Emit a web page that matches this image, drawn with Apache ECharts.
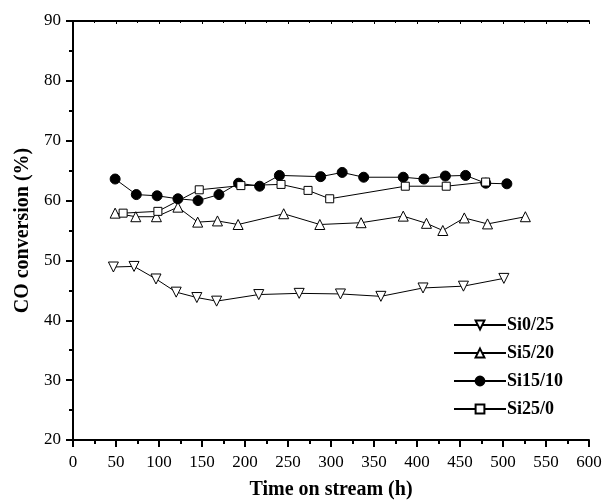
<!DOCTYPE html>
<html>
<head>
<meta charset="utf-8">
<script src="https://cdn.jsdelivr.net/npm/echarts@6/dist/echarts.min.js"></script>
<style>html,body{margin:0;padding:0;background:#fff}#c{width:606px;height:500px}</style>
</head>
<body>
<div id="c"></div>
<script>
var xTicks = [0, 50, 100, 150, 200, 250, 300, 350, 400, 450, 500, 550, 600];
var yTicks = [20, 30, 40, 50, 60, 70, 80, 90];

var seriesNames = ['Si0/25', 'Si5/20', 'Si15/10', 'Si25/0'];

var si0_25_time = [47, 71, 96.5, 120, 144, 167, 216, 263, 311, 358, 407, 454, 501];
var si0_25_conv = [48.9, 49.0, 46.9, 44.7, 43.8, 43.2, 44.3, 44.5, 44.4, 44.0, 45.4, 45.7, 47.0];

var si5_20_time = [49, 73, 97, 122, 145, 168, 192, 245, 287, 335, 384, 411, 430, 455, 482, 526];
var si5_20_conv = [57.9, 57.3, 57.3, 58.9, 56.4, 56.6, 56.0, 57.8, 56.0, 56.3, 57.4, 56.2, 55.0, 57.1, 56.1, 57.3];

var si15_10_time = [49, 73.6, 97.8, 122, 145.4, 169.7, 192.5, 217, 240, 288, 313, 338, 384, 408, 433, 456.5, 480, 504.5];
var si15_10_conv = [63.6, 61.0, 60.8, 60.3, 60.0, 61.0, 62.9, 62.4, 64.2, 64.0, 64.7, 63.9, 63.9, 63.6, 64.1, 64.2, 62.9, 62.8];

var si25_0_time = [58.3, 98.7, 146.8, 195.2, 241.9, 273.3, 298.5, 386.4, 434, 479.8];
var si25_0_conv = [57.9, 58.2, 61.8, 62.5, 62.7, 61.7, 60.3, 62.4, 62.4, 63.1];

function pairs(xs, ys) { return xs.map(function (x, i) { return [x, ys[i]]; }); }

var FONT = 'Liberation Serif';
var chart = echarts.init(document.getElementById('c'), null, {renderer: 'canvas'});

function mkSeries(name, xs, ys, symbol, size, fill, rot) {
  return {
    name: name, type: 'line', data: pairs(xs, ys),
    symbol: symbol, symbolSize: size, symbolRotate: rot || 0,
    showAllSymbol: true,
    lineStyle: {color: '#000', width: 1},
    itemStyle: {color: fill, borderColor: '#000', borderWidth: 1},
    emphasis: {disabled: true},
    animation: false, z: 3
  };
}

var axisLineStyle = {show: true, lineStyle: {color: '#000', width: 2}};

chart.setOption({
  animation: false,
  backgroundColor: '#fff',
  grid: {left: 73, right: 17, top: 21, bottom: 60, containLabel: false, outerBoundsMode: 'none'},
  legend: {
    orient: 'vertical', left: 453, top: 316, padding: 0,
    itemWidth: 52, itemHeight: 11, itemGap: 10,
    data: seriesNames,
    textStyle: {fontFamily: FONT, fontWeight: 'bold', fontSize: 18, color: '#000', padding: [0, 0, 0, -4]},
    selectedMode: false
  },
  xAxis: [{
    type: 'value', min: xTicks[0], max: xTicks[xTicks.length - 1], interval: 50,
    name: 'Time on stream (h)', nameLocation: 'middle', nameGap: 40,
    nameTextStyle: {fontFamily: FONT, fontWeight: 'bold', fontSize: 20, color: '#000'},
    axisLine: axisLineStyle, splitLine: {show: false},
    axisTick: {show: true, inside: false, length: 7, lineStyle: {color: '#000', width: 2}},
    minorTick: {show: true, splitNumber: 2, length: 4, lineStyle: {color: '#000', width: 2}},
    axisLabel: {fontFamily: FONT, fontSize: 17, color: '#000', margin: 14}
  }, {
    type: 'value', position: 'top', min: xTicks[0], max: xTicks[xTicks.length - 1], interval: 50,
    axisLine: axisLineStyle, splitLine: {show: false},
    axisTick: {show: true, inside: true, length: 3, lineStyle: {color: '#000', width: 1}},
    minorTick: {show: true, splitNumber: 2, length: 2, lineStyle: {color: '#000', width: 1}},
    axisLabel: {show: false}
  }],
  yAxis: [{
    type: 'value', min: yTicks[0], max: yTicks[yTicks.length - 1], interval: 10,
    name: 'CO conversion (%)', nameLocation: 'middle', nameGap: 40,
    nameTextStyle: {fontFamily: FONT, fontWeight: 'bold', fontSize: 20, color: '#000'},
    axisLine: axisLineStyle, splitLine: {show: false},
    axisTick: {show: true, inside: false, length: 7, lineStyle: {color: '#000', width: 2}},
    minorTick: {show: true, splitNumber: 2, length: 4, lineStyle: {color: '#000', width: 2}},
    axisLabel: {fontFamily: FONT, fontSize: 17, color: '#000', margin: 12}
  }, {
    type: 'value', position: 'right', min: yTicks[0], max: yTicks[yTicks.length - 1], interval: 10,
    axisLine: axisLineStyle, splitLine: {show: false},
    axisTick: {show: true, inside: true, length: 3, lineStyle: {color: '#000', width: 2}},
    minorTick: {show: true, splitNumber: 2, length: 2, lineStyle: {color: '#000', width: 1}},
    axisLabel: {show: false}
  }],
  series: [
    mkSeries(seriesNames[0], si0_25_time, si0_25_conv, 'triangle', 10, '#fff', 180),
    mkSeries(seriesNames[1], si5_20_time, si5_20_conv, 'triangle', 10, '#fff', 0),
    mkSeries(seriesNames[2], si15_10_time, si15_10_conv, 'circle', 10, '#000', 0),
    mkSeries(seriesNames[3], si25_0_time, si25_0_conv, 'rect', 8, '#fff', 0)
  ]
});
</script>
</body>
</html>
